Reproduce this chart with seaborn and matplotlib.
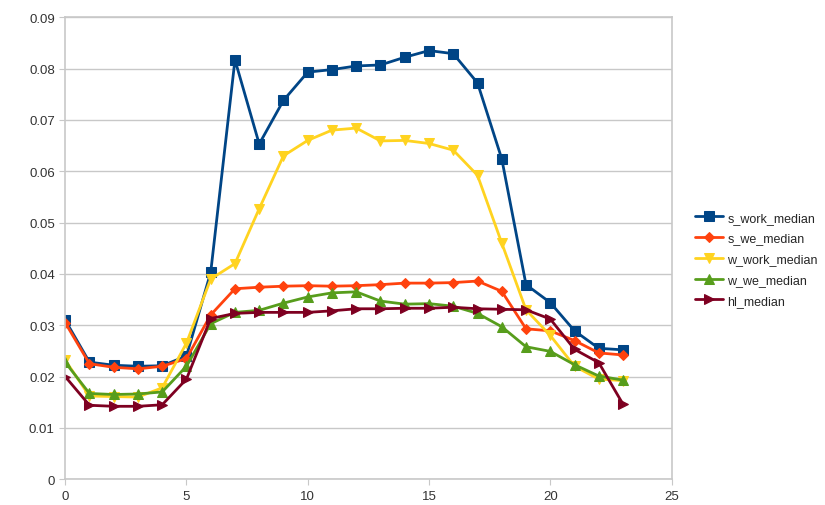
import pandas as pd
import matplotlib.pyplot as plt
import seaborn as sns

# hourly medians
hours = list(range(24))
s_work_median = [0.0310, 0.0228, 0.0222, 0.0220, 0.0221, 0.0240, 0.0403, 0.0817,
                 0.0653, 0.0738, 0.0793, 0.0798, 0.0805, 0.0807, 0.0822, 0.0835,
                 0.0829, 0.0772, 0.0624, 0.0379, 0.0344, 0.0289, 0.0255, 0.0252]
s_we_median = [0.0305, 0.0225, 0.0218, 0.0215, 0.0220, 0.0235, 0.0320, 0.0371,
               0.0374, 0.0376, 0.0377, 0.0376, 0.0377, 0.0379, 0.0382, 0.0382,
               0.0383, 0.0386, 0.0366, 0.0293, 0.0289, 0.0270, 0.0246, 0.0242]
w_work_median = [0.0232, 0.0162, 0.0161, 0.0160, 0.0178, 0.0265, 0.0390, 0.0420,
                 0.0527, 0.0630, 0.0660, 0.0680, 0.0684, 0.0659, 0.0660, 0.0654,
                 0.0641, 0.0592, 0.0460, 0.0330, 0.0280, 0.0220, 0.0195, 0.0192]
w_we_median = [0.0228, 0.0167, 0.0165, 0.0166, 0.0170, 0.0220, 0.0303, 0.0325,
               0.0329, 0.0343, 0.0355, 0.0363, 0.0365, 0.0347, 0.0341, 0.0342,
               0.0337, 0.0323, 0.0297, 0.0258, 0.0249, 0.0223, 0.0201, 0.0193]
hl_median = [0.0200, 0.0144, 0.0142, 0.0142, 0.0145, 0.0195, 0.0313, 0.0323,
             0.0325, 0.0325, 0.0325, 0.0328, 0.0332, 0.0332, 0.0333, 0.0333,
             0.0335, 0.0332, 0.0331, 0.0330, 0.0312, 0.0253, 0.0227, 0.0146]

series = {
    's_work_median': s_work_median,
    's_we_median': s_we_median,
    'w_work_median': w_work_median,
    'w_we_median': w_we_median,
    'hl_median': hl_median,
}
colors = ['#004586', '#ff420e', '#ffd320', '#579d1c', '#7e0021']
markers = ['s', 'D', 'v', '^', '>']
msizes = [7.5, 5.5, 7.5, 7.5, 7.5]

sns.set_style('white')
plt.rcParams['font.family'] = ['Liberation Sans', 'DejaVu Sans']

fig = plt.figure(figsize=(8.25, 5.06), dpi=100)
ax = fig.add_axes([0.079, 0.051, 0.735, 0.913])

for (name, vals), c, m, ms in zip(series.items(), colors, markers, msizes):
    sns.lineplot(x=hours, y=vals, ax=ax, color=c, marker=m, markersize=ms,
                 markeredgecolor=c, linewidth=2.0, label=name)

ax.set_xlim(0, 25)
ax.set_ylim(0, 0.09)
ax.set_xticks(range(0, 26, 5))
ax.set_yticks([i / 100 for i in range(10)])
ax.set_yticklabels(['0'] + [f'{i / 100:.2f}' for i in range(1, 10)])
ax.yaxis.grid(True, color='#c8c8c8', linewidth=1)
ax.tick_params(axis='both', labelsize=9.5, colors='#c8c8c8', labelcolor='#333333',
               length=4, direction='out', left=True, bottom=True)
for sp in ax.spines.values():
    sp.set_color('#c8c8c8')
    sp.set_linewidth(1.2)

leg = ax.legend(loc='upper left', bbox_to_anchor=(1.03, 0.59), frameon=False,
                fontsize=9, handlelength=2.3, labelspacing=0.7, borderaxespad=0,
                handletextpad=0.3)

fig.savefig('out.png', dpi=100)
